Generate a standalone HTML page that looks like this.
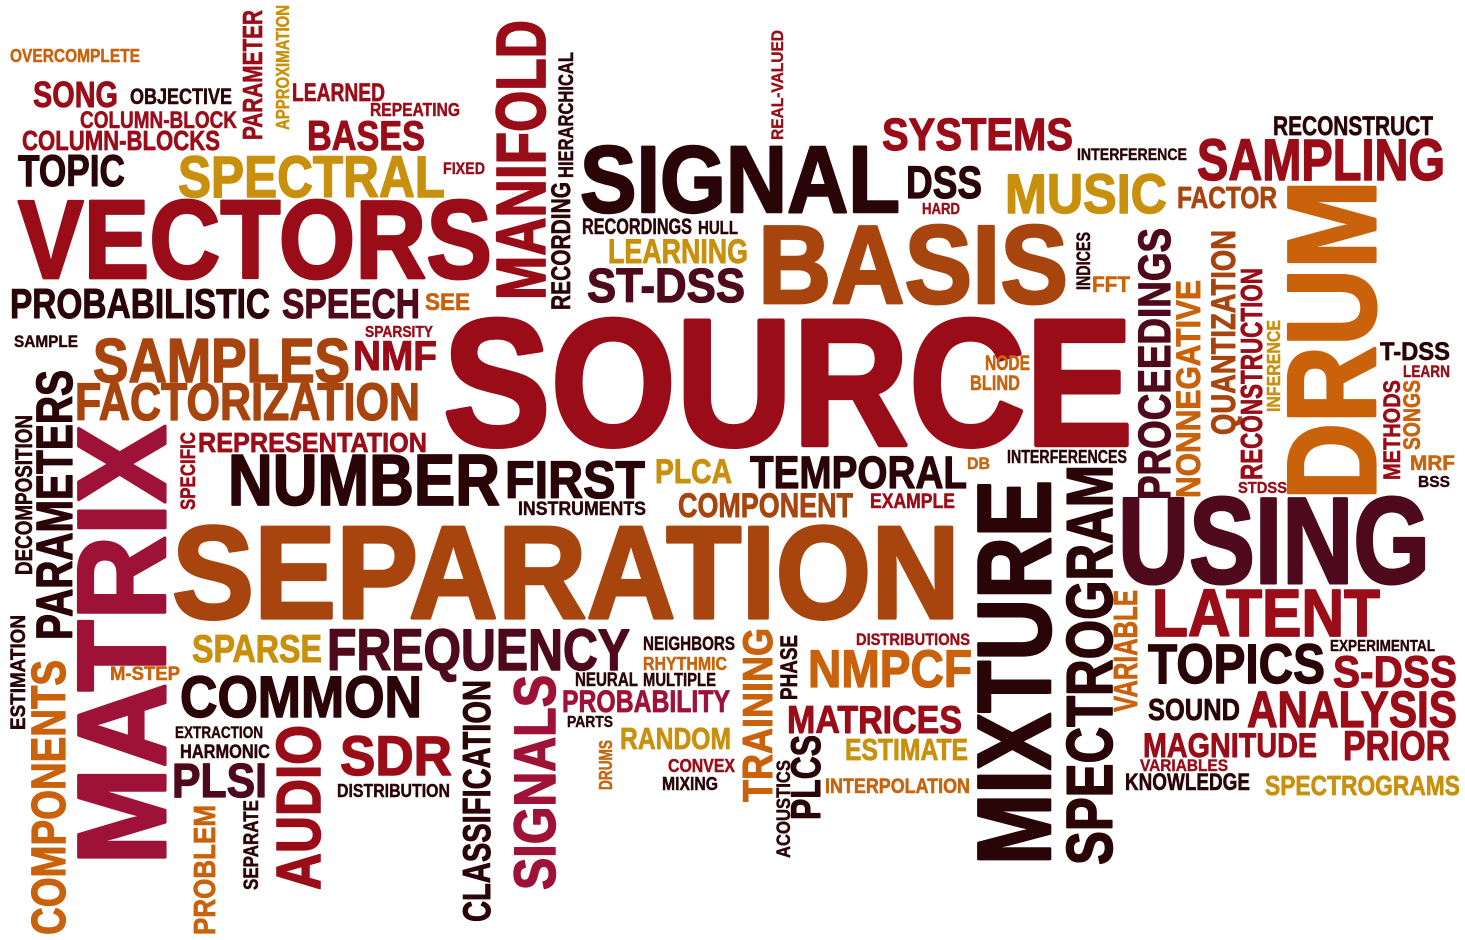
<!DOCTYPE html>
<html><head><meta charset="utf-8"><style>
html,body{margin:0;padding:0;background:#fff;}
svg{display:block;}
text{font-family:"Liberation Sans",sans-serif;font-weight:bold;stroke-linejoin:round;}
</style></head><body>
<svg id="cloud" width="1465" height="940" viewBox="0 0 1465 940" xmlns="http://www.w3.org/2000/svg"></svg>
<script>
const PAL={D:'#2a0508',M:'#4e0a1c',R:'#9a0c18',C:'#9e1238',B:'#a8440e',O:'#c9620b',G:'#c8900c'};
// horizontal: [word, left, baseline, width, capHeight, color]
const horizWords=[
['OVERCOMPLETE',10,62,130,13,'O'],['SONG',33,107,85,26,'R'],['OBJECTIVE',130,104,102,16,'D'],
['LEARNED',292,101,93,18,'R'],['REPEATING',370,116,90,13,'R'],['COLUMN-BLOCK',80,128,157,17,'R'],
['BASES',307,150,118,30,'R'],['COLUMN-BLOCKS',22,150,198,20,'R'],['TOPIC',18,186,107,32,'D'],
['SPECTRAL',178,197,267,42,'G'],['FIXED',443,174,42,12,'R'],['VECTORS',18,278,474,80,'R'],
['PROBABILISTIC',10,318,260,30,'D'],['SPEECH',282,318,138,30,'M'],['SEE',425,310,45,17,'O'],
['SAMPLE',14,347,64,12,'D'],['SPARSITY',365,337,68,11,'R'],['SAMPLES',93,382,257,45,'B'],
['NMF',353,370,84,30,'R'],['FACTORIZATION',75,420,345,38,'B'],['REPRESENTATION',198,452,229,20,'R'],
['NUMBER',228,505,272,52,'D'],['FIRST',505,498,140,38,'D'],['INSTRUMENTS',518,515,128,14,'D'],
['PLCA',655,483,77,25,'G'],['TEMPORAL',750,488,217,33,'D'],['DB',967,469,23,12,'O'],
['INTERFERENCES',1007,463,120,13,'D'],['COMPONENT',678,517,175,25,'B'],['EXAMPLE',870,508,85,15,'R'],
['SEPARATION',172,618,788,95,'B'],['SIGNAL',580,212,320,68,'D'],['SYSTEMS',882,150,191,33,'R'],
['INTERFERENCE',1077,160,110,12,'D'],['RECONSTRUCT',1273,135,160,19,'D'],['SAMPLING',1197,180,248,42,'R'],
['DSS',906,198,76,33,'D'],['HARD',922,214,38,11,'R'],['MUSIC',1005,213,162,40,'G'],
['FACTOR',1177,208,100,22,'B'],['RECORDINGS',582,234,110,16,'D'],['HULL',698,234,40,13,'D'],
['LEARNING',608,263,140,25,'G'],['BASIS',758,303,310,80,'B'],['ST-DSS',587,302,158,35,'M'],
['FFT',1092,292,38,16,'O'],['SOURCE',443,445,690,130,'R'],['NODE',985,370,45,15,'O'],
['BLIND',970,390,50,15,'O'],['T-DSS',1380,360,70,18,'D'],['LEARN',1403,377,47,12,'R'],
['MRF',1410,470,45,15,'O'],['BSS',1418,487,32,11,'D'],['STDSS',1238,493,49,11,'R'],
['USING',1118,583,312,88,'M'],['LATENT',1152,636,228,48,'R'],['TOPICS',1148,683,177,40,'D'],
['EXPERIMENTAL',1330,651,105,11,'D'],['S-DSS',1333,687,124,32,'R'],['SOUND',1148,720,92,22,'D'],
['ANALYSIS',1247,727,210,37,'R'],['MAGNITUDE',1143,757,174,25,'R'],['PRIOR',1343,760,107,30,'R'],
['VARIABLES',1140,771,88,12,'R'],['KNOWLEDGE',1125,790,125,17,'D'],['SPECTROGRAMS',1265,795,195,20,'G'],
['NMPCF',808,687,164,38,'O'],['DISTRIBUTIONS',856,645,114,12,'R'],['MATRICES',787,733,175,28,'R'],
['ESTIMATE',845,760,123,22,'G'],['INTERPOLATION',825,793,145,15,'O'],['SPARSE',192,662,130,28,'G'],
['FREQUENCY',327,670,303,42,'M'],['NEIGHBORS',643,650,92,14,'D'],['RHYTHMIC',643,670,84,13,'O'],
['NEURAL',575,686,63,14,'D'],['MULTIPLE',643,686,73,13,'D'],['PROBABILITY',562,712,168,23,'C'],
['PARTS',567,727,46,11,'D'],['RANDOM',620,749,111,22,'G'],['CONVEX',668,772,67,13,'R'],
['MIXING',662,790,56,13,'D'],['M-STEP',110,680,70,14,'O'],['COMMON',180,717,242,42,'D'],
['EXTRACTION',175,738,88,12,'D'],['HARMONIC',180,758,90,14,'D'],['PLSI',172,797,95,35,'M'],
['SDR',340,775,112,40,'R'],['DISTRIBUTION',337,797,113,13,'D']
];
// vertical (reads bottom-to-top): [word, left, top, right, bottom, color]
const vertWords=[
['PARAMETER',242,10,262,140,'R'],['APPROXIMATION',276,5,289,130,'G'],['MANIFOLD',495,20,545,300,'R'],
['HIERARCHICAL',558,52,573,178,'D'],['RECORDING',551,182,570,310,'D'],['REAL-VALUED',771,30,783,140,'R'],
['PROCEEDINGS',1137,228,1170,500,'M'],['NONNEGATIVE',1175,280,1200,498,'O'],['QUANTIZATION',1210,230,1235,435,'B'],
['RECONSTRUCTION',1240,268,1262,480,'R'],['INFERENCE',1267,320,1280,412,'G'],['INDICES',1076,232,1090,290,'D'],
['DRUM',1285,180,1375,500,'O'],['METHODS',1383,380,1400,480,'R'],['SONGS',1403,380,1420,450,'O'],
['MIXTURE',975,480,1050,865,'D'],['SPECTROGRAM',1065,465,1112,865,'D'],['VARIABLE',1113,590,1137,712,'O'],
['TRAINING',742,628,772,802,'O'],['PHASE',780,635,797,700,'D'],['ACOUSTICS',776,760,790,858,'D'],
['PLCS',790,735,820,820,'D'],['DRUMS',599,740,612,790,'O'],['SIGNALS',513,675,555,890,'C'],
['CLASSIFICATION',462,680,490,922,'D'],['AUDIO',275,725,320,890,'R'],['SEPARATE',243,800,258,890,'D'],
['PROBLEM',193,805,215,935,'O'],['MATRIX',75,425,165,865,'C'],['COMPONENTS',30,660,65,935,'O'],
['ESTIMATION',10,615,25,730,'D'],['PARAMETERS',35,370,72,640,'D'],['DECOMPOSITION',15,415,32,575,'D'],
['SPECIFIC',180,432,195,510,'R']
];
const svg=document.getElementById('cloud');
const NS='http://www.w3.org/2000/svg';
function slug(s){return s.toLowerCase().replace(/[^a-z0-9]+/g,'-');}
function style(t,cap,col){
  t.setAttribute('fill',PAL[col]);
  t.setAttribute('stroke',PAL[col]);
  t.setAttribute('stroke-width',(cap*0.035).toFixed(2));
}
for(const w of horizWords){
  const t=document.createElementNS(NS,'text');
  t.setAttribute('x',w[1]);t.setAttribute('y',w[2]);
  t.setAttribute('font-size',(w[4]/0.72).toFixed(1));
  t.setAttribute('textLength',w[3]);t.setAttribute('lengthAdjust','spacingAndGlyphs');
  style(t,w[4],w[5]);
  t.textContent=w[0];
  
  
  svg.appendChild(t);
}
for(const w of vertWords){
  const t=document.createElementNS(NS,'text');
  const cap=w[3]-w[1], len=w[4]-w[2];
  t.setAttribute('transform','translate('+w[3]+','+w[4]+') rotate(-90)');
  t.setAttribute('x',0);t.setAttribute('y',0);
  t.setAttribute('font-size',(cap/0.72).toFixed(1));
  t.setAttribute('textLength',len);t.setAttribute('lengthAdjust','spacingAndGlyphs');
  style(t,cap,w[5]);
  t.textContent=w[0];
  
  
  svg.appendChild(t);
}
</script>
</body></html>
